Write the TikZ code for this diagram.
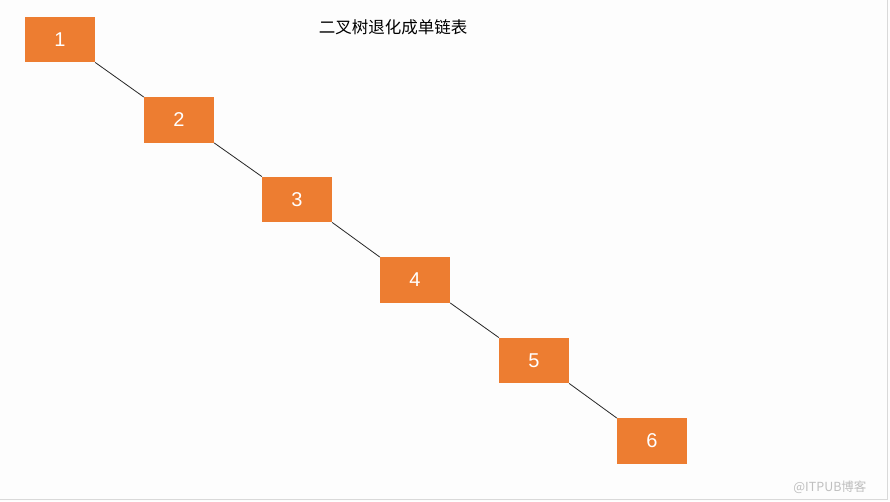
\documentclass[tikz,border=0pt]{standalone}
\usepackage{fontspec}
\setmainfont{Liberation Sans}
\newfontfamily\cjk{Noto Sans CJK SC}
\definecolor{boxorange}{HTML}{ED7D31}
\definecolor{bgc}{HTML}{FDFDFD}
\begin{document}
\begin{tikzpicture}[x=1pt,y=-1pt,
  nodebox/.style={fill=boxorange, draw=none, minimum width=70pt, minimum height=45.5pt, inner sep=0pt, text=white, font=\fontsize{20}{22}\selectfont},
  link/.style={draw=black!85, line width=0.8pt}]
\fill[bgc] (0,0) rectangle (890,501);
\useasboundingbox (0,0) rectangle (890,501);
\draw[black!15, line width=1pt] (887.5,0) -- (887.5,499.5) -- (0,499.5);
\node[font=\cjk\fontsize{16.5}{19}\selectfont] (title) at (393,27) {二叉树退化成单链表};
\node[nodebox] (n1) at (60,39.5) {1};
\node[nodebox] (n2) at (179,120) {2};
\node[nodebox] (n3) at (297,199.5) {3};
\node[nodebox] (n4) at (415,280) {4};
\node[nodebox] (n5) at (534,360.5) {5};
\node[nodebox] (n6) at (652,441) {6};
\draw[link] (n1.south east) -- (n2.north west);
\draw[link] (n2.south east) -- (n3.north west);
\draw[link] (n3.south east) -- (n4.north west);
\draw[link] (n4.south east) -- (n5.north west);
\draw[link] (n5.south east) -- (n6.north west);
\node[text=black!25, font=\cjk\fontsize{12.5}{15}\selectfont, anchor=east] (wm) at (870,487) {@ITPUB博客};
\end{tikzpicture}
\end{document}
